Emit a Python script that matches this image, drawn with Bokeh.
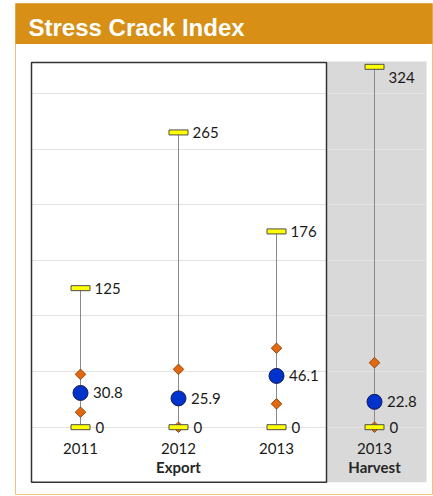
import numpy as np
from bokeh.plotting import figure
from bokeh.models import Range1d, FixedTicker, LinearAxis, Grid
from bokeh.core.properties import value
from bokeh.embed import file_html
from bokeh.resources import INLINE

# ---------------- data ----------------
title_text = "Stress Crack Index"
years = ["2011", "2012", "2013", "2013"]
groups = ["Export", "Export", "Export", "Harvest"]
max_vals = [125, 265, 176, 324]
min_vals = [0, 0, 0, 0]
mean_vals = [30.8, 25.9, 46.1, 22.8]
upper_vals = [47.5, 52, 71, 58]
lower_vals = [13.5, 0, 21, 0]
grid_ticks = [0, 50, 100, 150, 200, 250, 300]

# ---------------- layout helpers (page pixels -> data) ----------------
X0_PX, X_SCALE = 31.0, 98.0      # x = 0 at page px 31, 98 px per category
Y0_PX, Y_SCALE = 426.7, 1.1123   # y = 0 at page px 426.7


def xd(px):
    return (px - X0_PX) / X_SCALE


def yd(py):
    return (Y0_PX - py) / Y_SCALE


p = figure(width=433, height=496,
           x_range=Range1d(xd(15), xd(432)), y_range=Range1d(yd(494), yd(3)),
           output_backend="svg", toolbar_location=None,
           x_axis_location=None, y_axis_location=None,
           min_border_left=15, min_border_right=1, min_border_top=3, min_border_bottom=2)
p.outline_line_color = "#eec27a"
p.outline_line_width = 1
p.background_fill_color = "white"
p.border_fill_color = "white"
p.grid.visible = False

# header bar + title
p.quad(left=xd(10), right=xd(440), top=yd(0), bottom=yd(43.5),
       fill_color="#d78f15", line_color=None)
p.text(x=[xd(28)], y=[yd(26.5)], text=[title_text], text_font=value("Liberation Sans"),
       text_font_style="bold", text_font_size="24px", text_color="white",
       text_baseline="middle", text_align="left")

# grey "harvest" area
p.quad(left=xd(326), right=xd(426), top=yd(61), bottom=yd(481.7),
       fill_color="#d9d9d9", line_color=None, level="image")

# grid lines
grid_kw = dict(dimension=1, ticker=FixedTicker(ticks=grid_ticks),
               grid_line_color="#e3e3e3", grid_line_width=1)
if "cross_bounds" in Grid.properties():
    p.add_layout(Grid(cross_bounds=(xd(31), xd(426)), **grid_kw))
else:
    p.segment(x0=[xd(31)] * len(grid_ticks), x1=[xd(426)] * len(grid_ticks),
              y0=grid_ticks, y1=grid_ticks, line_color="#e3e3e3", line_width=1,
              level="underlay")

# black frame around export
p.quad(left=xd(31), right=xd(326), top=yd(62), bottom=yd(481.7),
       fill_color=None, line_color="#333333", line_width=1.5)

xs = [i + 0.5 for i in range(len(years))]

# whiskers
p.segment(x0=xs, y0=min_vals, x1=xs, y1=max_vals, line_color="#8a8a8a", line_width=1)

# quartile diamonds
p.scatter(xs + xs, upper_vals + lower_vals, marker="square", angle=np.pi / 4, size=7.5,
          fill_color="#e2680f", line_color="#7a3800", line_width=0.8)

# min / max caps
p.rect(x=xs + xs, y=max_vals + min_vals, width=19, height=5,
       width_units="screen", height_units="screen",
       fill_color="#ffff00", line_color="#4d4d4d", line_width=1)

# means
p.scatter(xs, mean_vals, marker="circle", size=15,
          fill_color="#0033cc", line_color="#1a1a4d", line_width=1)

lab_kw = dict(text_font=value("Lato"), text_font_size="15px", text_color="#1a1a1a",
              text_baseline="middle", text_align="left")
max_dy = [0, 0, 0, 11]
p.text(x=xs, y=max_vals, text=[f"{v:g}" for v in max_vals], x_offset=14, y_offset=max_dy, **lab_kw)
p.text(x=xs, y=mean_vals, text=[f"{v:.1f}" for v in mean_vals], x_offset=12.5, **lab_kw)
p.text(x=xs, y=min_vals, text=[f"{v:g}" for v in min_vals], x_offset=15, **lab_kw)

# category axis
ax = LinearAxis(ticker=FixedTicker(ticks=xs),
                major_label_overrides={x: y for x, y in zip(xs, years)},
                fixed_location=yd(442.5), axis_line_color=None,
                major_tick_line_color=None, minor_tick_line_color=None,
                major_tick_out=0, major_tick_in=0, major_label_standoff=0,
                major_label_text_font="Lato", major_label_text_font_size="15px",
                major_label_text_color="#1a1a1a")
p.add_layout(ax, "below")

# group axis
group_names = list(dict.fromkeys(groups))
group_pos = [float(np.mean([x for x, g in zip(xs, groups) if g == name])) for name in group_names]
gax = LinearAxis(ticker=FixedTicker(ticks=group_pos),
                 major_label_overrides={x: g for x, g in zip(group_pos, group_names)},
                 fixed_location=yd(457), axis_line_color=None,
                 major_tick_line_color=None, minor_tick_line_color=None,
                 major_tick_out=0, major_tick_in=0, major_label_standoff=0,
                 major_label_text_font="Lato", major_label_text_font_style="bold",
                 major_label_text_font_size="15px", major_label_text_color="#262626")
p.add_layout(gax, "below")

open("out.html", "w").write(file_html(p, INLINE))
